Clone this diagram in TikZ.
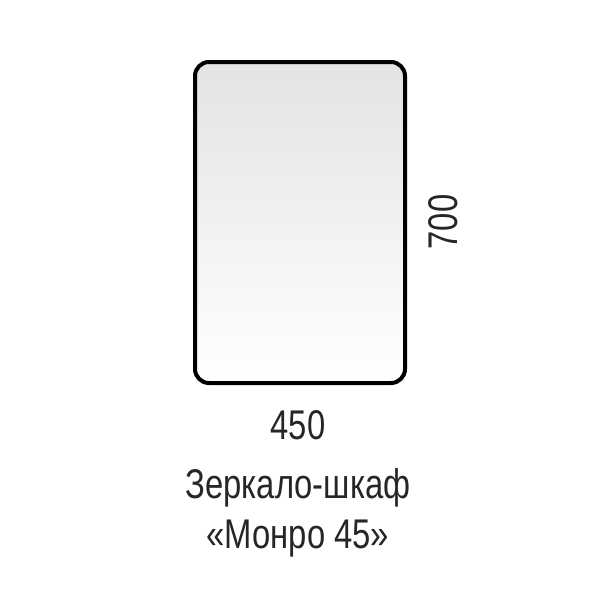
\documentclass[tikz,border=0pt]{standalone}
\usepackage{fontspec}
\setmainfont[FakeStretch=0.79]{Liberation Sans}
\begin{document}
\begin{tikzpicture}[x=1pt,y=-1pt,
  lbl/.style={font=\fontsize{41.5}{44}\selectfont, text=black!85, inner sep=0pt, anchor=base}]
\useasboundingbox (0,0) rectangle (600,600);
\fill[white] (0,0) rectangle (600,600);
\node[draw=black, line width=4pt, rounded corners=14pt, minimum width=210pt, minimum height=321pt,
  top color=black!11, bottom color=white, inner sep=0pt] (mirror) at (300,222.5) {};
\node[lbl] (w) at (298,439) {450};
\node[lbl, rotate=90] (h) at (457,222) {700};
\node[lbl] (t1) at (298,498) {Зеркало-шкаф};
\node[lbl] (t2) at (298,548) {«Монро 45»};
\end{tikzpicture}
\end{document}
